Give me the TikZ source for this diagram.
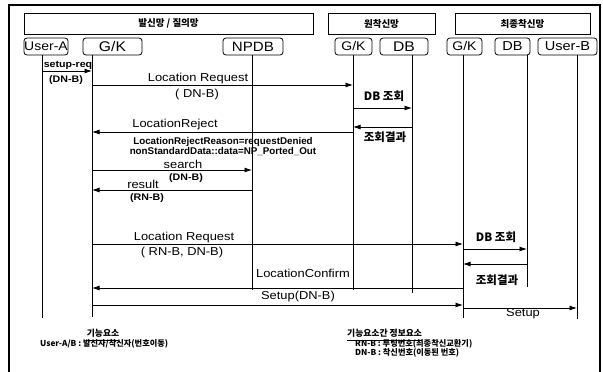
\documentclass[tikz,border=0pt]{standalone}
\usepackage{fontspec}
\setmainfont{Liberation Sans}
\newfontfamily\wide[FakeStretch=1.12]{Liberation Sans}
\newfontfamily\kr{Noto Sans CJK KR}
\usetikzlibrary{arrows.meta,calc}
\begin{document}
\begin{tikzpicture}[x=1pt,y=-1pt,
 hdr/.style={draw, line width=0.8pt, inner sep=0pt, minimum height=21pt, font=\kr\bfseries\fontsize{9.5}{10}\selectfont},
 part/.style={draw, line width=0.8pt, rounded corners=3pt, inner sep=0pt, minimum height=17pt, font=\wide\fontsize{12.5}{13}\selectfont},
 life/.style={line width=0.8pt},
 msg/.style={line width=0.8pt, -{Latex[length=7.5pt,width=5pt]}},
 lbl/.style={inner sep=0pt, font=\wide\fontsize{11.5}{12}\selectfont},
 sml/.style={inner sep=0pt, font=\wide\bfseries\fontsize{9.5}{10}\selectfont},
 rej/.style={inner sep=0pt, font=\bfseries\fontsize{9.8}{10}\selectfont},
 krl/.style={inner sep=0pt, font=\kr\bfseries\fontsize{11.5}{12}\selectfont},
 leg/.style={inner sep=0pt, font=\kr\bfseries\fontsize{8.2}{9}\selectfont},
]
\useasboundingbox (0,0) rectangle (603,372);
% frame
\draw[line width=1.1pt] (9,372) -- (9,5) -- (600,5) -- (600,372);

% headers
\node[hdr, minimum width=289pt] (h1) at (168.5,23.5) {발신망 / 질의망};
\node[hdr, minimum width=107pt] (h2) at (381.5,23.5) {원착신망};
\node[hdr, minimum width=135pt] (h3) at (522.5,23.5) {최종착신망};

% participants
\node[part, minimum width=44pt] (ua) at (46,46.5) {User-A};
\node[part, minimum width=59pt, font=\wide\fontsize{14}{15}\selectfont] (gk1) at (112.5,46.5) {G/K};
\node[part, minimum width=60pt, font=\wide\fontsize{13.5}{15}\selectfont] (np) at (253,46.5) {NPDB};
\node[part, minimum width=37pt] (gk2) at (353.5,46.5) {G/K};
\node[part, minimum width=48pt, font=\wide\fontsize{14}{15}\selectfont] (db2) at (404,46.5) {DB};
\node[part, minimum width=35pt] (gk3) at (464.5,46.5) {G/K};
\node[part, minimum width=35pt, font=\wide\fontsize{13}{15}\selectfont] (db3) at (512.5,46.5) {DB};
\node[part, minimum width=59pt, font=\wide\fontsize{13}{15}\selectfont] (ub) at (567.5,46.5) {User-B};

% lifeline coordinates
\coordinate (lA) at (42,55);
\coordinate (lG1) at (92,55);
\coordinate (lN) at (252,55);
\coordinate (lG2) at (353,55);
\coordinate (lD2) at (412,55);
\coordinate (lG3) at (463,55);
\coordinate (lD3) at (527,55);
\coordinate (lB) at (577,55);

\draw[life] (lA) -- (lA |- 0,318);
\draw[life] (lG1) -- (lG1 |- 0,317);
\draw[life] (lN) -- (lN |- 0,290);
\draw[life] (lG2) -- (lG2 |- 0,290);
\draw[life] (lD2) -- (lD2 |- 0,293);
\draw[life] (lG3) -- (lG3 |- 0,318);
\draw[life] (lD3) -- (lD3 |- 0,287);
\draw[life] (lB) -- (lB |- 0,319);

% messages
\draw[msg] (lA |- 0,71) -- (lG1 |- 0,71);
\node[sml] (t1) at (68,65) {setup-req};
\node[sml] (t1b) at (66,80) {(DN-B)};

\draw[msg] (lG1 |- 0,85) -- (lG2 |- 0,85);
\node[lbl] (t2) at (198,79) {Location Request};
\node[lbl] (t2b) at (197,95) {( DN-B)};

\draw[msg] (lG2 |- 0,108) -- (lD2 |- 0,108);
\node[krl] (t3) at (384,96) {DB 조회};

\draw[msg] (lD2 |- 0,127) -- (lG2 |- 0,127);
\node[krl] (t4) at (385,137) {조회결과};

\draw[msg] (lG2 |- 0,132) -- (lG1 |- 0,132);
\node[lbl] (t5) at (175,125) {LocationReject};
\node[rej] (t5b) at (223,142) {LocationRejectReason=requestDenied};
\node[rej] (t5c) at (223,152) {nonStandardData::data=NP\_Ported\_Out};

\draw[msg] (lG1 |- 0,170) -- (lN |- 0,170);
\node[lbl] (t6) at (183,164) {search};
\node[sml] (t6b) at (186,178) {(DN-B)};

\draw[msg] (lN |- 0,190) -- (lG1 |- 0,190);
\node[lbl] (t7) at (143,184) {result};
\node[sml] (t7b) at (147,198) {(RN-B)};

\draw[msg] (lG1 |- 0,244) -- (lG3 |- 0,244);
\node[lbl] (t8) at (184,238) {Location Request};
\node[lbl] (t8b) at (182,253) {( RN-B, DN-B)};

\draw[msg] (lG3 |- 0,249) -- (lD3 |- 0,249);
\node[krl] (t9) at (496,237) {DB 조회};

\draw[msg] (lD3 |- 0,264) -- (lG3 |- 0,264);
\node[krl] (t10) at (497,280) {조회결과};

\draw[msg] (lG3 |- 0,288) -- (lG1 |- 0,288);
\node[lbl] (t11) at (303,273) {LocationConfirm};

\draw[msg] (lG1 |- 0,305) -- (lG3 |- 0,305);
\node[lbl] (t12) at (298,297) {Setup(DN-B)};

\draw[msg] (lG3 |- 0,308) -- (lB |- 0,308);
\node[lbl] (t13) at (523,314) {Setup};

% legend
\node[leg, font=\kr\bfseries\fontsize{8.8}{9}\selectfont] (g1) at (103,333) {기능요소};
\draw[line width=0.6pt] ($(g1.south west)+(0,3)$) -- ($(g1.south east)+(0,3)$);
\node[leg, anchor=west] (g1a) at (40,344) {User-A/B : 발신자/착신자(번호이동)};
\node[leg, anchor=west, font=\kr\bfseries\fontsize{8.8}{9}\selectfont] (g2) at (347,333) {기능요소간 정보요소};
\draw[line width=0.6pt] ($(g2.south west)+(0,3)$) -- ($(g2.south east)+(0,3)$);
\node[leg, anchor=west] (g2a) at (355,344) {RN-B : 루팅번호(최종착신교환기)};
\node[leg, anchor=west] (g2b) at (355,353) {DN-B : 착신번호(이동된 번호)};
\end{tikzpicture}
\end{document}
